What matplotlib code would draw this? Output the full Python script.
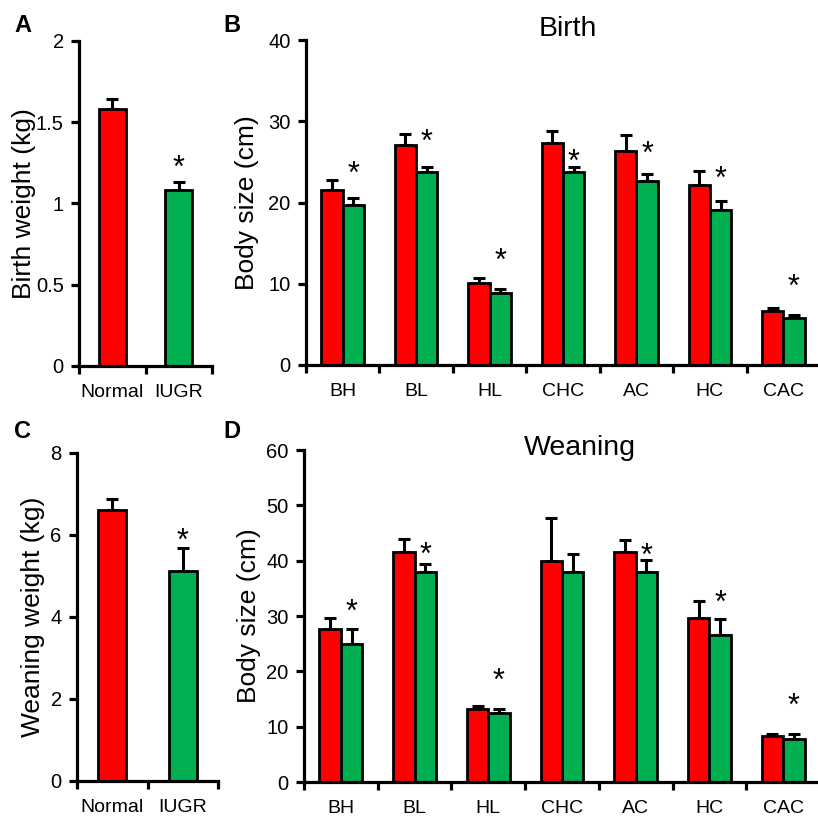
import matplotlib
matplotlib.use("Agg")
import matplotlib.pyplot as plt
import numpy as np

plt.rcParams["font.family"] = ["Liberation Sans", "DejaVu Sans"]

RED = "#ff0000"
GREEN = "#00b050"

groups = ["Normal", "IUGR"]
birth_weight = [1.58, 1.08]
birth_weight_err = [0.065, 0.05]
weaning_weight = [6.61, 5.12]
weaning_weight_err = [0.27, 0.56]

measures = ["BH", "BL", "HL", "CHC", "AC", "HC", "CAC"]
birth_normal = [21.5, 27.1, 10.1, 27.3, 26.4, 22.1, 6.6]
birth_normal_err = [1.3, 1.3, 0.6, 1.5, 1.9, 1.8, 0.4]
birth_iugr = [19.7, 23.7, 8.9, 23.7, 22.6, 19.1, 5.8]
birth_iugr_err = [0.8, 0.7, 0.5, 0.7, 0.9, 1.1, 0.3]
birth_star = [24.6, 28.5, 13.9, 26.0, 27.0, 23.9, 10.7]

wean_normal = [27.7, 41.6, 13.2, 39.9, 41.5, 29.7, 8.3]
wean_normal_err = [2.0, 2.4, 0.6, 7.8, 2.2, 3.0, 0.4]
wean_iugr = [25.0, 37.9, 12.4, 37.9, 37.9, 26.5, 7.8]
wean_iugr_err = [2.7, 1.5, 0.8, 3.3, 2.2, 2.9, 0.8]
wean_star = [32.3, 42.6, 19.8, None, 42.3, 33.8, 15.2]

W, H = 818, 816
STAR_FS = 22


def _axes(fig, left, top, right, bottom):
    return fig.add_axes([left / W, 1 - bottom / H, (right - left) / W, (bottom - top) / H])


def _style(ax, ymax, yticks, yticklabels, ylabel, ncat, labelpad):
    for side in ("top", "right"):
        ax.spines[side].set_visible(False)
    for side in ("left", "bottom"):
        ax.spines[side].set_linewidth(2.3)
    ax.set_xlim(0, ncat)
    ax.set_ylim(0, ymax)
    ax.set_yticks(yticks)
    ax.set_yticklabels(yticklabels)
    ax.set_xticks(np.arange(ncat + 1))
    ax.set_xticklabels([])
    ax.tick_params(axis="both", direction="out", width=2.3, length=6, labelsize=14.5, pad=5)
    ax.set_ylabel(ylabel, fontsize=19, labelpad=labelpad)


def _star(ax, x, y):
    ax.annotate("*", (x, y), xytext=(0, -0.57 * STAR_FS), textcoords="offset points",
                ha="center", va="baseline", fontsize=STAR_FS)


def _xlabel(ax, x, text):
    # category labels sit a fixed distance under the axis line
    ax.annotate(text, (x, 0), xycoords=("data", "axes fraction"), xytext=(0, -13),
                textcoords="offset points", ha="center", va="top", fontsize=14)


def _err(ax, x, top, err):
    ax.errorbar(x, top, yerr=[[0] * len(top), err], fmt="none", ecolor="black",
                elinewidth=2.2, capsize=4, capthick=2.2, zorder=1)


def weight_panel(ax, values, errs, ymax, yticks, yticklabels, ylabel, star_y, labelpad):
    x = np.arange(len(values)) + 0.5
    _err(ax, x, values, errs)
    ax.bar(x, values, width=0.4, color=[RED, GREEN], edgecolor="black", linewidth=2.0, zorder=2)
    _style(ax, ymax, yticks, yticklabels, ylabel, len(values), labelpad)
    for xi, g in zip(x, groups):
        _xlabel(ax, xi, g)
    _star(ax, x[1], star_y)


def size_panel(ax, normal, nerr, iugr, ierr, stars, ymax, yticks, labelpad):
    x = np.arange(len(measures)) + 0.5
    bw = 0.29
    _err(ax, x - bw / 2, normal, nerr)
    _err(ax, x + bw / 2, iugr, ierr)
    ax.bar(x - bw / 2, normal, width=bw, color=RED, edgecolor="black", linewidth=2.0, zorder=2)
    ax.bar(x + bw / 2, iugr, width=bw, color=GREEN, edgecolor="black", linewidth=2.0, zorder=2)
    _style(ax, ymax, yticks, [str(t) for t in yticks], "Body size (cm)", len(measures), labelpad)
    for xi, m in zip(x, measures):
        _xlabel(ax, xi, m)
    for xi, s in zip(x, stars):
        if s is not None:
            _star(ax, xi + bw / 2, s)


fig = plt.figure(figsize=(W / 100, H / 100), dpi=100)

ax_a = _axes(fig, 79, 41, 212, 366)
weight_panel(ax_a, birth_weight, birth_weight_err, 2, [0, 0.5, 1, 1.5, 2],
             ["0", "0.5", "1", "1.5", "2"], "Birth weight (kg)", 1.27, 0)

ax_b = _axes(fig, 306, 40, 820, 365)
size_panel(ax_b, birth_normal, birth_normal_err, birth_iugr, birth_iugr_err, birth_star,
           40, [0, 10, 20, 30, 40], 7)

ax_c = _axes(fig, 77, 453, 218, 781)
weight_panel(ax_c, weaning_weight, weaning_weight_err, 8, [0, 2, 4, 6, 8],
             ["0", "2", "4", "6", "8"], "Weaning weight (kg)", 6.07, 4)

ax_d = _axes(fig, 304, 450, 820, 782)
size_panel(ax_d, wean_normal, wean_normal_err, wean_iugr, wean_iugr_err, wean_star,
           60, [0, 10, 20, 30, 40, 50, 60], 4)

fig.text(568 / W, 1 - 29 / H, "Birth", ha="center", va="center", fontsize=20.5)
fig.text(580 / W, 1 - 448 / H, "Weaning", ha="center", va="center", fontsize=20.5)

for letter, px, py in [("A", 14, 25), ("B", 223, 25), ("C", 14, 432), ("D", 223, 432)]:
    fig.text(px / W, 1 - py / H, letter, ha="left", va="center", fontsize=17, fontweight="bold")

fig.savefig("out.png", dpi=100, facecolor="white")
